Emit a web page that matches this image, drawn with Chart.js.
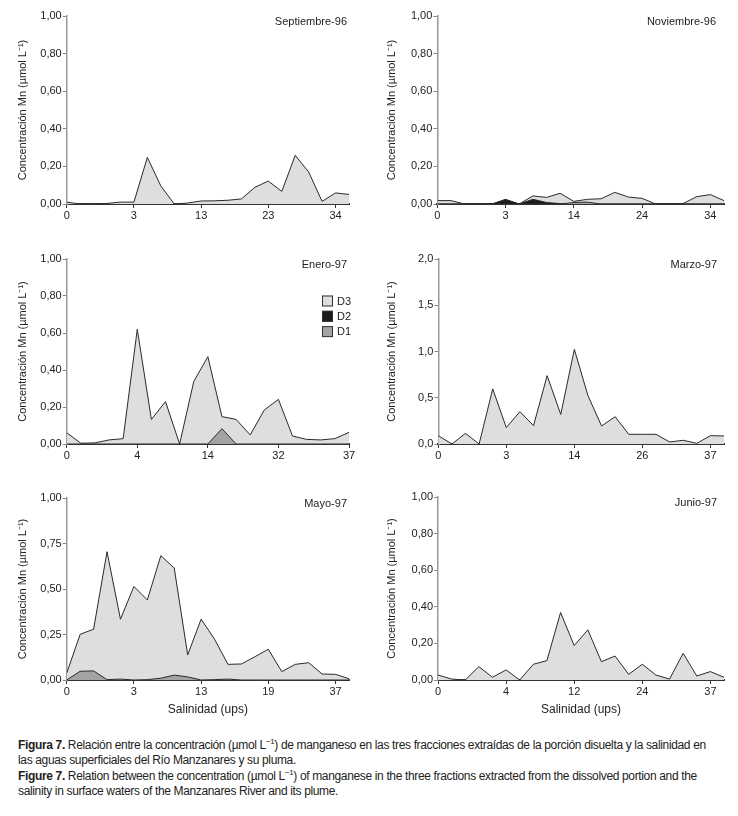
<!DOCTYPE html>
<html>
<head>
<meta charset="utf-8">
<script src="https://cdn.jsdelivr.net/npm/chart.js@4.4.1/dist/chart.umd.min.js"></script>
<style>
  html, body { margin: 0; padding: 0; background: #fff; }
  body { width: 738px; height: 816px; position: relative; overflow: hidden; font-family: "Liberation Sans", Arial, sans-serif; }
  canvas { position: absolute; }
  #caption { position: absolute; left: 18px; top: 738px; width: 715px; font-family: "Liberation Sans Narrow", "Liberation Sans", Arial, sans-serif; font-size: 12px; letter-spacing: -0.35px; line-height: 15.3px; color: #222; white-space: nowrap; }
  #caption p { margin: 0; }
  #caption sup { font-size: 8px; line-height: 0; }
</style>
</head>
<body>
<canvas id="c-sep"></canvas>
<canvas id="c-nov"></canvas>
<canvas id="c-ene"></canvas>
<canvas id="c-mar"></canvas>
<canvas id="c-may"></canvas>
<canvas id="c-jun"></canvas>
<div id="caption">
  <p><b>Figura 7.</b> Relación entre la concentración (µmol L<sup>−1</sup>) de manganeso en las tres fracciones extraídas de la porción disuelta y la salinidad en<br>las aguas superficiales del Río Manzanares y su pluma.</p>
  <p><b>Figure 7.</b> Relation between the concentration (µmol L<sup>−1</sup>) of manganese in the three fractions extracted from the dissolved portion and the<br>salinity in surface waters of the Manzanares River and its plume.</p>
</div>
<script>
(() => {
  'use strict';

  // Station index where each salinity label sits
  const tickIndex = [0, 5, 10, 15, 20];

  const sepLabels = ['0', '3', '13', '23', '34'];
  const novLabels = ['0', '3', '14', '24', '34'];
  const eneLabels = ['0', '4', '14', '32', '37'];
  const marLabels = ['0', '3', '14', '26', '37'];
  const mayLabels = ['0', '3', '13', '19', '37'];
  const junLabels = ['0', '4', '12', '24', '37'];

  // Mn concentration (µmol/L) per station, fractions D3 / D2 / D1
  const sepD3 = [0.01, 0, 0.002, 0.003, 0.01, 0.01, 0.248, 0.096, 0, 0.005, 0.016, 0.017, 0.02, 0.027, 0.089, 0.122, 0.067, 0.259, 0.17, 0.014, 0.059, 0.051];

  const novD3 = [0.018, 0.018, 0, 0, 0, 0.02, 0, 0.043, 0.035, 0.057, 0.014, 0.025, 0.028, 0.062, 0.037, 0.03, 0, 0, 0.002, 0.039, 0.05, 0.018];
  const novD2 = [0, 0, 0, 0, 0, 0.025, 0, 0.025, 0.008, 0.002, 0, 0, 0, 0, 0, 0, 0, 0, 0, 0, 0, 0];
  const novD1 = [0, 0, 0, 0, 0, 0, 0, 0, 0, 0, 0.008, 0.01, 0, 0, 0, 0, 0, 0, 0, 0, 0, 0];

  const eneD3 = [0.061, 0.004, 0.006, 0.022, 0.029, 0.62, 0.133, 0.229, 0, 0.337, 0.472, 0.148, 0.133, 0.049, 0.184, 0.241, 0.043, 0.025, 0.022, 0.029, 0.063];
  const eneD1 = [0, 0, 0, 0, 0, 0, 0, 0, 0, 0, 0, 0.083, 0, 0, 0, 0, 0, 0, 0, 0, 0];

  const marD3 = [0.09, 0, 0.115, 0, 0.595, 0.177, 0.35, 0.198, 0.739, 0.32, 1.023, 0.523, 0.195, 0.295, 0.105, 0.105, 0.105, 0.022, 0.04, 0.007, 0.09, 0.087];

  const mayD3 = [0.037, 0.251, 0.279, 0.705, 0.334, 0.514, 0.44, 0.683, 0.615, 0.138, 0.334, 0.224, 0.086, 0.088, 0.128, 0.169, 0.046, 0.086, 0.095, 0.033, 0.031, 0.007];
  const mayD1 = [0, 0.048, 0.05, 0.002, 0.005, 0, 0.002, 0.01, 0.027, 0.017, 0, 0.002, 0.005, 0, 0, 0, 0, 0, 0, 0, 0, 0];

  const junD3 = [0.027, 0.005, 0, 0.073, 0.015, 0.055, 0, 0.086, 0.106, 0.369, 0.188, 0.274, 0.1, 0.131, 0.031, 0.086, 0.027, 0.005, 0.146, 0.022, 0.046, 0.015];

  const COLORS = { D3: '#dedede', D2: '#1c1c1c', D1: '#a3a3a3' };
  const Y_TITLE = 'Concentración Mn (µmol L⁻¹)';

  const panels = [
    { id: 'c-sep', left: 0,   top: 0,   w: 369, h: 235, axisX: 66.7,  right: 349, pTop: 16,  pBottom: 204, yMax: 1, yStep: 0.2,  dec: 2, title: 'Septiembre-96', labels: sepLabels, d3: sepD3, titleDx: 2 },
    { id: 'c-nov', left: 369, top: 0,   w: 369, h: 235, axisX: 437.3, right: 724, pTop: 16,  pBottom: 204, yMax: 1, yStep: 0.2,  dec: 2, title: 'Noviembre-96',  labels: novLabels, d3: novD3, d2: novD2, d1: novD1, titleDx: 8 },
    { id: 'c-ene', left: 0,   top: 240, w: 369, h: 230, axisX: 66.7,  right: 349, pTop: 259, pBottom: 444, yMax: 1, yStep: 0.2,  dec: 2, title: 'Enero-97',      labels: eneLabels, d3: eneD3, d1: eneD1, titleDx: 2, legend: true },
    { id: 'c-mar', left: 369, top: 240, w: 369, h: 230, axisX: 438.3, right: 724, pTop: 259, pBottom: 444, yMax: 2, yStep: 0.5,  dec: 1, title: 'Marzo-97',      labels: marLabels, d3: marD3, titleDx: 7 },
    { id: 'c-may', left: 0,   top: 480, w: 369, h: 250, axisX: 66.7,  right: 349, pTop: 498, pBottom: 680, yMax: 1, yStep: 0.25, dec: 2, title: 'Mayo-97',       labels: mayLabels, d3: mayD3, d1: mayD1, titleDx: 2, xTitle: true },
    { id: 'c-jun', left: 369, top: 480, w: 369, h: 250, axisX: 438,   right: 724, pTop: 497, pBottom: 680, yMax: 1, yStep: 0.2,  dec: 2, title: 'Junio-97',      labels: junLabels, d3: junD3, titleDx: 7, xTitle: true },
  ];

  const panelText = {
    id: 'panelText',
    afterDraw(chart, args, opts) {
      const { ctx, chartArea: a } = chart;
      ctx.save();
      ctx.fillStyle = '#222';
      ctx.font = '11px "Liberation Sans", Arial, sans-serif';
      ctx.textAlign = 'right';
      ctx.textBaseline = 'middle';
      ctx.fillText(opts.title, a.right - opts.dx, a.top + 6);
      if (opts.legend) {
        ['D3', 'D2', 'D1'].forEach((name, i) => {
          const cy = a.top + 42 + i * 15.3;
          ctx.fillStyle = COLORS[name];
          ctx.fillRect(a.right - 27, cy - 5.5, 11, 11);
          ctx.strokeStyle = '#333';
          ctx.lineWidth = 1;
          ctx.strokeRect(a.right - 26.5, cy - 5, 10, 10);
          ctx.fillStyle = '#222';
          ctx.textAlign = 'left';
          ctx.fillText(name, a.right - 12, cy + 0.5);
        });
      }
      ctx.restore();
    }
  };

  panels.forEach(p => {
    const canvas = document.getElementById(p.id);
    canvas.width = p.w;
    canvas.height = p.h;
    canvas.style.left = p.left + 'px';
    canvas.style.top = p.top + 'px';

    // D1 first so it is drawn on top, D3 last (behind)
    const series = [];
    if (p.d1) series.push({ label: 'D1', data: p.d1 });
    if (p.d2) series.push({ label: 'D2', data: p.d2 });
    series.push({ label: 'D3', data: p.d3 });

    const datasets = series.map(s => ({
      label: s.label,
      data: s.data.map((y, i) => ({ x: i, y })),
      backgroundColor: COLORS[s.label],
      borderColor: '#2a2a2a',
      borderWidth: 1,
      fill: 'origin',
      pointRadius: 0,
      tension: 0,
    }));

    new Chart(canvas, {
      type: 'line',
      data: { datasets },
      options: {
        responsive: false,
        animation: false,
        layout: { padding: { left: 0, top: p.pTop - p.top, right: p.left + p.w - p.right, bottom: 0 } },
        plugins: {
          legend: { display: false },
          tooltip: { enabled: false },
          panelText: { title: p.title, dx: p.titleDx, legend: !!p.legend },
        },
        scales: {
          x: {
            type: 'linear',
            min: 0,
            max: p.d3.length - 1,
            afterBuildTicks: s => { s.ticks = tickIndex.map(v => ({ value: v })); },
            afterFit: s => { s.height = p.top + p.h - p.pBottom; },
            ticks: {
              autoSkip: false,
              maxRotation: 0,
              padding: 1,
              color: '#222',
              font: { size: 11, family: '"Liberation Sans", Arial, sans-serif' },
              callback: (v, i) => p.labels[i],
            },
            grid: { drawOnChartArea: false, tickLength: 4, tickColor: '#333' },
            border: { color: '#333', width: 2 },
            title: {
              display: !!p.xTitle,
              text: 'Salinidad (ups)',
              color: '#222',
              font: { size: 12, family: '"Liberation Sans", Arial, sans-serif' },
              padding: { top: 0, bottom: 13 },
            },
          },
          y: {
            min: 0,
            max: p.yMax,
            afterFit: s => { s.width = p.axisX - p.left; },
            ticks: {
              stepSize: p.yStep,
              padding: 1,
              color: '#222',
              font: { size: 11, family: '"Liberation Sans", Arial, sans-serif' },
              callback: v => v.toFixed(p.dec).replace('.', ','),
            },
            grid: { drawOnChartArea: false, tickLength: 4, tickColor: '#888' },
            border: { color: '#999', width: 1.5 },
            title: {
              display: true,
              text: Y_TITLE,
              color: '#222',
              font: { size: 11, family: '"Liberation Sans", Arial, sans-serif' },
              padding: { top: 16, bottom: 0 },
            },
          },
        },
      },
      plugins: [panelText],
    });
  });
})();
</script>
</body>
</html>
